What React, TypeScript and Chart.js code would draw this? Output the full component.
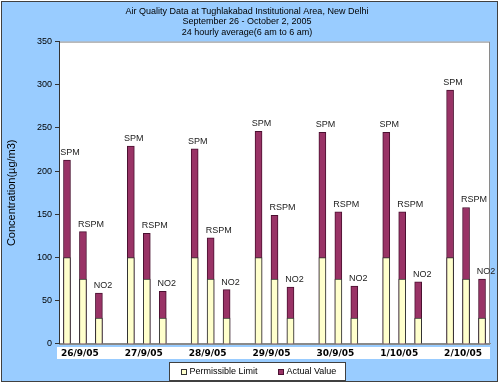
import React, { useEffect, useRef } from 'react';
import { Chart, registerables } from 'chart.js';

Chart.register(...registerables);

const titleLines = [
  'Air Quality Data at Tughlakabad Institutional Area, New Delhi',
  'September 26 - October 2, 2005',
  '24 hourly average(6 am to 6 am)',
];
const dates = ['26/9/05', '27/9/05', '28/9/05', '29/9/05', '30/9/05', '1/10/05', '2/10/05'];
const pollutants = ['SPM', 'RSPM', 'NO2'];
const permissibleLimit = [100, 75, 30];
const spmActual = [213, 229, 226, 246, 245, 245, 294];
const rspmActual = [130, 128, 123, 149, 153, 153, 158];
const no2Actual = [59, 61, 63, 66, 67, 72, 75];
const seriesNames = ['Permissible Limit', 'Actual Value'];
const yAxisTitle = 'Concentration(µg/m3)';
const yMin = 0;
const yMax = 350;
const yStep = 50;

const actualByPollutant = [spmActual, rspmActual, no2Actual];

const catLabels: string[] = [];
const catPollutant: (string | null)[] = [];
const limitData: (number | null)[] = [];
const actualData: (number | null)[] = [];
dates.forEach((d, di) => {
  pollutants.forEach((p, pi) => {
    catLabels.push(pi === 1 ? d : '');
    catPollutant.push(p);
    limitData.push(permissibleLimit[pi]);
    actualData.push(actualByPollutant[pi][di]);
  });
  if (di < dates.length - 1) {
    catLabels.push('');
    catPollutant.push(null);
    limitData.push(null);
    actualData.push(null);
  }
});

const FONT = '"Liberation Sans", Arial, sans-serif';
const BG = '#99CCFF';
const labelShift: Record<string, number> = { SPM: 3, RSPM: 8, NO2: 4 };

const backgroundPlugin = {
  id: 'bgFrame',
  beforeDraw(chart: any) {
    const { ctx, width, height, chartArea } = chart;
    ctx.save();
    ctx.fillStyle = '#ffffff';
    ctx.fillRect(0, 0, width, height);
    ctx.fillStyle = BG;
    ctx.fillRect(2, 2, width - 5, height - 4);
    ctx.strokeStyle = '#404040';
    ctx.lineWidth = 1;
    ctx.strokeRect(1.5, 1.5, width - 4, height - 3);
    // plot area
    ctx.fillStyle = '#ffffff';
    ctx.fillRect(chartArea.left, chartArea.top, chartArea.right - chartArea.left, chartArea.bottom - chartArea.top);
    ctx.strokeStyle = '#8a8a8a';
    ctx.strokeRect(chartArea.left + 0.5, chartArea.top + 0.5, chartArea.right - chartArea.left - 1, chartArea.bottom - chartArea.top);
    // label row
    ctx.fillStyle = '#ffffff';
    ctx.fillRect(chartArea.left - 2, chartArea.bottom + 3, chartArea.right - chartArea.left + 2, 12);
    ctx.restore();
  },
};

const legendPlugin = {
  id: 'boxLegend',
  afterDraw(chart: any) {
    const { ctx, width, chartArea } = chart;
    const items = chart.data.datasets.map((ds: any) => ({
      text: ds.label,
      fill: ds.backgroundColor,
      stroke: ds.borderColor,
    }));
    ctx.save();
    ctx.font = `9px ${FONT}`;
    const marker = 6;
    const gap = 3;
    const itemGap = 20;
    const widths = items.map((it: any) => marker + gap + ctx.measureText(it.text).width);
    const total = widths.reduce((a: number, b: number) => a + b, 0) + itemGap * (items.length - 1);
    const padL = 11;
    const padR = 9;
    const boxW = Math.round(total + padL + padR);
    const boxX = Math.round(width / 2 + 7 - boxW / 2) + 0.5;
    const boxY = Math.round(chartArea.bottom + 18) + 0.5;
    const boxH = 18;
    ctx.fillStyle = '#ffffff';
    ctx.fillRect(boxX, boxY, boxW, boxH);
    ctx.strokeStyle = '#404040';
    ctx.lineWidth = 1;
    ctx.strokeRect(boxX, boxY, boxW, boxH);
    let x = boxX + padL;
    const cy = boxY + boxH / 2;
    items.forEach((it: any, i: number) => {
      ctx.fillStyle = it.fill;
      ctx.fillRect(Math.round(x), Math.round(cy - marker / 2), marker, marker);
      ctx.strokeStyle = it.stroke;
      ctx.strokeRect(Math.round(x) + 0.5, Math.round(cy - marker / 2) + 0.5, marker - 1, marker - 1);
      ctx.fillStyle = '#000000';
      ctx.textAlign = 'left';
      ctx.textBaseline = 'middle';
      ctx.fillText(it.text, x + marker + gap, cy + 0.5);
      x += widths[i] + itemGap;
    });
    ctx.restore();
  },
};

const barLabelPlugin = {
  id: 'barLabels',
  afterDatasetsDraw(chart: any) {
    const { ctx } = chart;
    const meta = chart.getDatasetMeta(1);
    ctx.save();
    ctx.font = `9px ${FONT}`;
    ctx.fillStyle = '#222222';
    ctx.textAlign = 'center';
    ctx.textBaseline = 'bottom';
    meta.data.forEach((el: any, i: number) => {
      const name = catPollutant[i];
      if (!name || actualData[i] == null) return;
      ctx.fillText(name, el.x + (labelShift[name] || 0), el.y - 3);
    });
    ctx.restore();
  },
};

export default function App() {
  const canvasRef = useRef<HTMLCanvasElement | null>(null);

  useEffect(() => {
    if (!canvasRef.current) return;
    const chart = new Chart(canvasRef.current, {
      type: 'bar',
      data: {
        labels: catLabels,
        datasets: [
          {
            label: seriesNames[0],
            data: limitData,
            backgroundColor: '#FFFFCC',
            borderColor: '#333333',
            borderWidth: 1,
            barThickness: 7,
            grouped: false,
          },
          {
            label: seriesNames[1],
            data: actualData,
            backgroundColor: '#993366',
            borderColor: '#4a1030',
            borderWidth: 1,
            barThickness: 7,
            grouped: false,
          },
        ],
      },
      options: {
        animation: false,
        responsive: false,
        devicePixelRatio: 1,
        layout: { padding: { left: 4, right: 10, top: 2, bottom: 23 } },
        plugins: {
          title: {
            display: true,
            text: titleLines,
            color: '#000000',
            font: { family: FONT, size: 9, weight: 'normal', lineHeight: 1.17 },
            padding: { top: 4, bottom: 4 },
          },
          legend: { display: false },
          tooltip: { enabled: false },
        },
        scales: {
          x: {
            grid: { display: false, drawTicks: false },
            border: { display: true, color: '#8a8a8a' },
            ticks: {
              autoSkip: false,
              maxRotation: 0,
              minRotation: 0,
              padding: 4,
              labelOffset: -3,
              color: '#000000',
              font: { family: '"DejaVu Sans", Verdana, sans-serif', size: 9, weight: 'bold' },
            },
            afterFit(scale: any) {
              scale.height = 16;
            },
          },
          y: {
            min: yMin,
            max: yMax,
            grid: { display: true, drawOnChartArea: false, drawTicks: true, tickLength: 4, color: '#333333' },
            border: { display: true, color: '#333333' },
            ticks: {
              stepSize: yStep,
              padding: 3,
              color: '#000000',
              font: { family: FONT, size: 9 },
            },
            title: {
              display: true,
              text: yAxisTitle,
              color: '#000000',
              font: { family: FONT, size: 11 },
              padding: { top: 1, bottom: 0 },
            },
            afterFit(scale: any) {
              scale.width = 55;
            },
          },
        },
      },
      plugins: [backgroundPlugin, barLabelPlugin, legendPlugin],
    });
    return () => chart.destroy();
  }, []);

  return (
    <div style={{ position: 'absolute', left: 0, top: 0, width: 500, height: 383 }}>
      <canvas ref={canvasRef} width={500} height={383} />
    </div>
  );
}
